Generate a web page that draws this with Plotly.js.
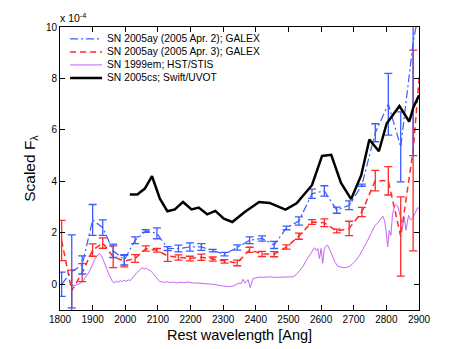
<!DOCTYPE html>
<html>
<head>
<meta charset="utf-8">
<script src="https://cdn.plot.ly/plotly-3.0.1.min.js"></script>
<style>html,body{margin:0;padding:0;background:#fff;}#chart{width:463px;height:349px;}</style>
</head>
<body>
<div id="chart"></div>
<script>
// GALEX bins (Angstrom)
const galexWave = [1805,1836,1868,1900,1931,1963,1997,2030,2063,2097,2130,2163,2198,2233,2268,2304,2343,2381,2419,2456,2494,2532,2572,2610,2648,2686,2725,2766,2806,2844,2882,2920];
// SN 2005ay (2005 Apr. 2); GALEX  (units of 1e-4)
const apr2Flux = [0.0,0.5,0.75,2.5,2.2,1.3,0.95,1.71,2.07,1.98,1.39,1.39,1.45,1.45,1.31,1.17,1.43,1.71,1.78,1.53,2.19,2.46,3.52,3.63,2.88,3.07,3.85,5.89,7.0,5.34,9.4,12.0];
const apr2Err  = [0.47,1.42,0.35,0.6,0.3,0.26,0.2,0.13,0.05,0.21,0.07,0.13,0.16,0.13,0.05,0.07,0.1,0.13,0.1,0.14,0.07,0.16,0.18,0.2,0.12,0.17,0.04,0.35,1.2,1.36,4.4,2.0];
// SN 2005ay (2005 Apr. 3); GALEX
const apr3Flux = [1.7,-0.25,0.45,1.33,1.6,1.07,0.9,1.0,1.39,1.32,1.1,1.04,1.0,1.05,0.98,0.89,0.83,1.34,1.18,1.17,1.45,1.87,2.42,2.39,2.07,2.17,2.81,4.03,4.02,1.86,5.2,11.0];
const apr3Err  = [0.78,0.8,0.35,0.24,0.2,0.42,0.22,0.15,0.1,0.07,0.21,0.1,0.09,0.12,0.08,0.07,0.11,0.1,0.1,0.1,0.08,0.12,0.09,0.15,0.07,0.28,0.18,0.4,0.55,1.54,3.9,2.0];
// SN 1999em; HST/STIS
const stisWave = [1836,1846,1855,1861,1870,1876,1884,1892,1900,1907,1914,1920,1927,1933,1938,1944,1951,1956,1961,1967,1973,1978,1985,1990,1996,2003,2010,2016,2022,2029,2036,2045,2052,2058,2064,2070,2077,2083,2090,2097,2106,2113,2120,2128,2136,2145,2157,2170,2180,2192,2205,2218,2230,2245,2258,2269,2282,2295,2310,2320,2330,2340,2348,2355,2361,2366,2372,2376,2380,2383,2387,2391,2400,2412,2425,2442,2460,2483,2500,2514,2524,2534,2544,2554,2565,2575,2580,2586,2590,2595,2600,2605,2609,2613,2620,2628,2636,2643,2651,2660,2670,2677,2688,2697,2708,2718,2730,2743,2754,2764,2774,2784,2789,2795,2799,2804,2809,2814,2819,2826,2831,2836,2844,2850,2855,2860,2868,2874,2880,2886,2891,2896,2900];
const stisFlux = [-0.03,-0.05,0.0,0.03,0.12,0.22,0.38,0.55,0.78,0.98,1.1,1.19,1.12,0.95,0.8,0.58,0.35,0.2,0.1,0.06,0.12,0.08,0.14,0.1,0.15,0.12,0.17,0.15,0.25,0.35,0.46,0.57,0.64,0.6,0.63,0.56,0.54,0.45,0.35,0.22,0.1,0.1,0.07,0.1,0.06,0.09,0.05,0.08,0.06,0.09,0.05,0.05,0.03,0.02,0.01,0.0,-0.04,-0.06,-0.08,-0.09,-0.07,-0.02,0.04,0.03,0.2,0.05,0.1,0.18,0.0,-0.13,0.05,0.22,0.25,0.28,0.27,0.29,0.27,0.28,0.28,0.29,0.38,0.55,0.68,0.92,1.15,1.35,1.42,1.3,1.39,1.0,1.39,0.82,1.3,1.47,1.52,1.3,1.06,0.85,0.7,0.66,0.64,0.65,0.7,0.8,0.95,1.13,1.4,1.71,2.0,2.26,2.4,2.55,2.65,2.45,2.1,1.45,2.1,1.9,2.75,3.07,3.1,3.0,2.49,2.24,2.62,2.1,2.68,2.5,2.55,2.7,2.88,2.98,2.95];
// SN 2005cs; Swift/UVOT
const uvotWave = [2014,2037,2060,2082,2106,2129,2152,2177,2203,2225,2251,2276,2302,2328,2366,2410,2442,2491,2525,2572,2603,2631,2661,2692,2723,2748,2777,2801,2840,2870,2883,2900];
const uvotFlux = [3.49,3.49,3.72,4.2,3.33,2.84,2.91,3.2,2.91,2.98,2.72,2.85,2.55,2.42,2.81,3.2,3.16,2.9,3.15,3.85,4.99,5.03,3.94,3.31,4.24,5.63,5.17,6.25,6.93,6.32,6.88,7.35];

const seriesNames = ['SN 2005ay (2005 Apr. 2); GALEX','SN 2005ay (2005 Apr. 3); GALEX','SN 1999em; HST/STIS','SN 2005cs; Swift/UVOT'];
const xTicks = [1800,1900,2000,2100,2200,2300,2400,2500,2600,2700,2800,2900];
const yTicks = [0,2,4,6,8,10];

const BLUE = '#3a5cff', RED = '#ff2a2a', PURPLE = '#c864f5', BLACK = '#000000';
const FONT = 'Liberation Sans, Arial, Helvetica, sans-serif';

const traces = [
  {x: stisWave, y: stisFlux, type:'scatter', mode:'lines', name: seriesNames[2],
   line:{color:PURPLE, width:1}, showlegend:false},
  {x: galexWave, y: apr3Flux, type:'scatter', mode:'lines', name: seriesNames[1],
   line:{color:RED, width:1.5, dash:'6px,4px'},
   error_y:{type:'data', array: apr3Err, visible:true, color:RED, thickness:1.3, width:4}, showlegend:false},
  {x: galexWave, y: apr2Flux, type:'scatter', mode:'lines', name: seriesNames[0],
   line:{color:BLUE, width:1.2, dash:'8px,3px,2px,3px'},
   error_y:{type:'data', array: apr2Err, visible:true, color:BLUE, thickness:1.3, width:4}, showlegend:false},
  {x: uvotWave, y: uvotFlux, type:'scatter', mode:'lines', name: seriesNames[3],
   line:{color:BLACK, width:2.5}, showlegend:false}
];

// compact legend (MATLAB style)
const legStyles = [
  {color:BLUE, width:1.2, dash:'8px,3px,2px,3px'},
  {color:RED, width:1.5, dash:'6px,4px'},
  {color:PURPLE, width:1, dash:'solid'},
  {color:BLACK, width:2.5, dash:'solid'}
];
const legY = [0.958, 0.912, 0.866, 0.820];
const shapes = [];
const annotations = [];
seriesNames.forEach((n,i)=>{
  shapes.push({type:'line', xref:'paper', yref:'paper', x0:0.028, x1:0.117, y0:legY[i], y1:legY[i], line:legStyles[i]});
  annotations.push({xref:'paper', yref:'paper', x:0.125, y:legY[i], xanchor:'left', yanchor:'middle',
    text:n, showarrow:false, font:{family:FONT, size:10.3, color:'#000'}});
});
annotations.push({xref:'paper', yref:'paper', x:-0.005, y:1.005, xanchor:'left', yanchor:'bottom',
  text:'x 10<sup>-4</sup>', showarrow:false, font:{family:FONT, size:10.5, color:'#000'}});

const layout = {
  width:463, height:349,
  margin:{l:60, r:44, t:27, b:39, pad:0},
  paper_bgcolor:'#fff', plot_bgcolor:'#fff',
  font:{family:FONT, size:10, color:'#000'},
  showlegend:false,
  xaxis:{range:[1800,2900], tickvals:xTicks, ticktext:xTicks.map(String), ticks:'inside', ticklen:5, tickcolor:'#000',
    showline:true, linecolor:'#000', linewidth:1, mirror:'ticks', showgrid:false, zeroline:false,
    tickfont:{family:FONT, size:10},
    title:{text:'Rest wavelength [Ang]', font:{family:FONT, size:14.5}, standoff:5}},
  yaxis:{range:[-1,10], tickvals:yTicks, ticktext:yTicks.map(String), ticks:'inside', ticklen:5, tickcolor:'#000',
    showline:true, linecolor:'#000', linewidth:1, mirror:'ticks', showgrid:false, zeroline:false,
    tickfont:{family:FONT, size:10},
    title:{text:'Scaled F<sub>λ</sub>', font:{family:FONT, size:15.5}, standoff:6}},
  shapes: shapes,
  annotations: annotations
};

Plotly.newPlot('chart', traces, layout, {displayModeBar:false, staticPlot:true});
</script>
</body>
</html>
